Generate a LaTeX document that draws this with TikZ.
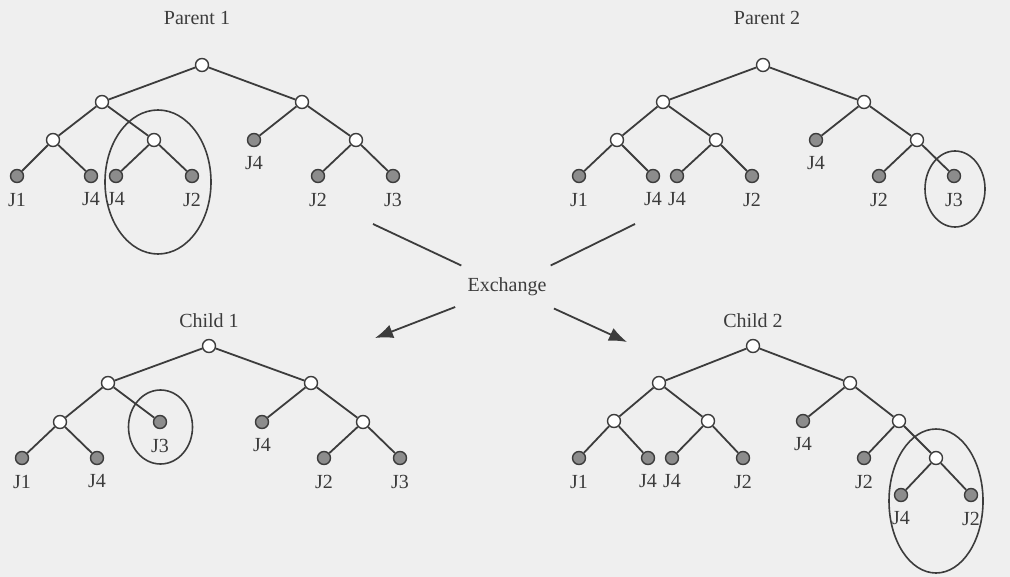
\documentclass[tikz,border=0pt]{standalone}
\usepackage{fontspec}
\setmainfont{Liberation Serif}
\usetikzlibrary{arrows.meta}
\definecolor{paper}{RGB}{239,239,239}
\definecolor{ink}{RGB}{60,60,60}
\definecolor{leafgray}{RGB}{140,140,140}
\tikzset{
  inner/.style={circle,draw=ink,fill=white,line width=0.7pt,minimum size=6.5pt,inner sep=0pt},
  leaf/.style={circle,draw=ink,fill=leafgray,line width=0.7pt,minimum size=6.5pt,inner sep=0pt},
  jlab/.style={inner sep=0pt,label distance=4.6pt,text=ink,font=\fontsize{10}{12}\selectfont},
  title/.style={text=ink,font=\fontsize{10}{12}\selectfont},
  edge/.style={draw=ink,line width=0.9pt},
  ring/.style={draw=ink,line width=0.8pt}
}
\begin{document}
\begin{tikzpicture}[x=0.5pt,y=-0.5pt]
\fill [paper] (0,0) rectangle (1010,577);

% Titles
\node [title] (t1) at (197,18) {Parent 1};
\node [title] (t2) at (767,18) {Parent 2};
\node [title] (t3) at (209,321) {Child 1};
\node [title] (t4) at (753,321) {Child 2};

% Parent 1
\node [inner] (p1r) at (202,65) {};
\node [inner] (p1a) at (102,102) {};
\node [inner] (p1b) at (302,102) {};
\node [inner] (p1aa) at (53,140) {};
\node [inner] (p1ab) at (154,140) {};
\node [leaf,label={[jlab]below:J4}] (p1ba) at (254,140) {};
\node [inner] (p1bb) at (356,140) {};
\foreach \n/\x/\t in {p1aaa/17/J1,p1aab/91/J4,p1aba/116/J4,p1abb/192/J2,p1bba/318/J2,p1bbb/393/J3}
\node [leaf,label={[jlab]below:\t}] (\n) at (\x,176) {};

\foreach \u/\v in {p1r/p1a,p1r/p1b,p1a/p1aa,p1a/p1ab,p1b/p1ba,p1b/p1bb,p1aa/p1aaa,p1aa/p1aab,p1ab/p1aba,p1ab/p1abb,p1bb/p1bba,p1bb/p1bbb}
\draw [edge] (\u) -- (\v);

\draw [ring] (158,182) ellipse [x radius=26.5pt,y radius=36pt];

% Parent 2
\node [inner] (p2r) at (763,65) {};
\node [inner] (p2a) at (663,102) {};
\node [inner] (p2b) at (864,102) {};
\node [inner] (p2aa) at (617,140) {};
\node [inner] (p2ab) at (716,140) {};
\node [leaf,label={[jlab]below:J4}] (p2ba) at (816,140) {};
\node [inner] (p2bb) at (917,140) {};
\foreach \n/\x/\t in {p2aaa/579/J1,p2aab/653/J4,p2aba/677/J4,p2abb/752/J2,p2bba/879/J2,p2bbb/954/J3}
\node [leaf,label={[jlab]below:\t}] (\n) at (\x,176) {};

\foreach \u/\v in {p2r/p2a,p2r/p2b,p2a/p2aa,p2a/p2ab,p2b/p2ba,p2b/p2bb,p2aa/p2aaa,p2aa/p2aab,p2ab/p2aba,p2ab/p2abb,p2bb/p2bba,p2bb/p2bbb}
\draw [edge] (\u) -- (\v);

\draw [ring] (955,189) ellipse [x radius=15pt,y radius=19pt];

% Exchange
\node [title,inner sep=6pt] (ex) at (507,287) {Exchange};
\coordinate (p1out) at (373,224);
\coordinate (p2out) at (635,224);
\coordinate (c1in) at (375,338);
\coordinate (c2in) at (627,342);
\draw [edge] (p1out) -- (ex);
\draw [edge] (p2out) -- (ex);
\draw [edge,-{Latex[length=9pt,width=7pt]}] (ex) -- (c1in);
\draw [edge,-{Latex[length=9pt,width=7pt]}] (ex) -- (c2in);

% Child 1
\node [inner] (c1r) at (209,346) {};
\node [inner] (c1a) at (108,383) {};
\node [inner] (c1b) at (311,383) {};
\node [inner] (c1aa) at (60,422) {};
\node [leaf,label={[jlab]below:J3}] (c1ab) at (160,422) {};
\node [leaf,label={[jlab]below:J4}] (c1ba) at (262,422) {};
\node [inner] (c1bb) at (363,422) {};
\foreach \n/\x/\t in {c1aaa/22/J1,c1aab/97/J4,c1bba/324/J2,c1bbb/400/J3}
\node [leaf,label={[jlab]below:\t}] (\n) at (\x,458) {};

\foreach \u/\v in {c1r/c1a,c1r/c1b,c1a/c1aa,c1a/c1ab,c1b/c1ba,c1b/c1bb,c1aa/c1aaa,c1aa/c1aab,c1bb/c1bba,c1bb/c1bbb}
\draw [edge] (\u) -- (\v);

\draw [ring] (160.5,427) ellipse [x radius=16pt,y radius=18.5pt];

% Child 2
\node [inner] (c2r) at (753,346) {};
\node [inner] (c2a) at (659,383) {};
\node [inner] (c2b) at (850,383) {};
\node [inner] (c2aa) at (614,421) {};
\node [inner] (c2ab) at (708,421) {};
\node [leaf,label={[jlab]below:J4}] (c2ba) at (803,421) {};
\node [inner] (c2bb) at (899,421) {};
\foreach \n/\x/\t in {c2aaa/579/J1,c2aab/648/J4,c2aba/672/J4,c2abb/743/J2,c2bba/864/J2}
\node [leaf,label={[jlab]below:\t}] (\n) at (\x,458) {};
\node [inner] (c2bbb) at (936,458) {};
\foreach \n/\x/\t in {c2bbba/901/J4,c2bbbb/971/J2}
\node [leaf,label={[jlab]below:\t}] (\n) at (\x,495) {};

\foreach \u/\v in {c2r/c2a,c2r/c2b,c2a/c2aa,c2a/c2ab,c2b/c2ba,c2b/c2bb,c2aa/c2aaa,c2aa/c2aab,c2ab/c2aba,c2ab/c2abb,c2bb/c2bba,c2bb/c2bbb,c2bbb/c2bbba,c2bbb/c2bbbb}
\draw [edge] (\u) -- (\v);

\draw [ring] (936,501) ellipse [x radius=23.5pt,y radius=36pt];

\end{tikzpicture}
\end{document}
